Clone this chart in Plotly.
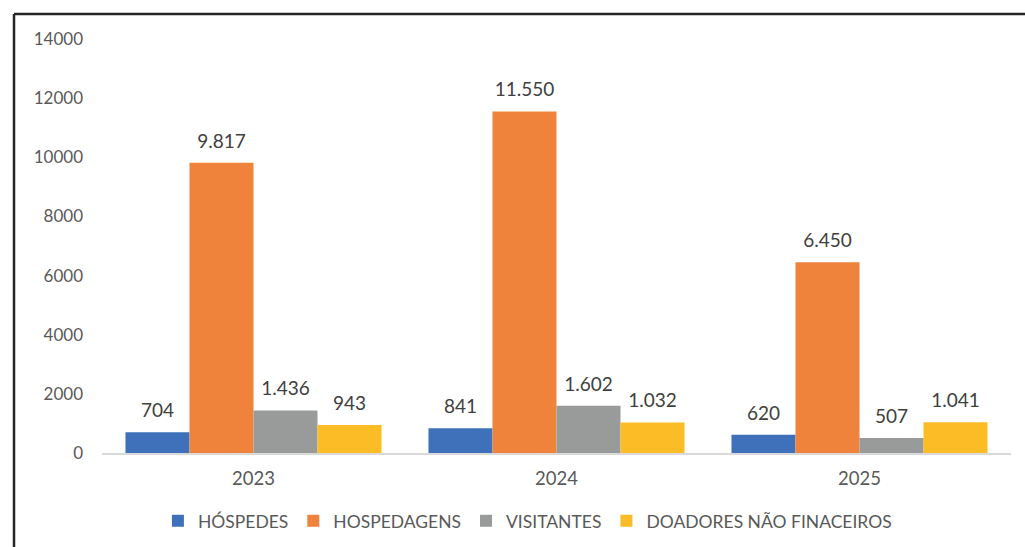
import plotly.graph_objects as go

years = ["2023", "2024", "2025"]
hospedes = [704, 841, 620]
hospedagens = [9817, 11550, 6450]
visitantes = [1436, 1602, 507]
doadores = [943, 1032, 1041]
series_names = ["HÓSPEDES", "HOSPEDAGENS", "VISITANTES", "DOADORES NÃO FINACEIROS"]
colors = ["#3F71BA", "#F0833C", "#999B9B", "#FBBC26"]
y_ticks = [0, 2000, 4000, 6000, 8000, 10000, 12000, 14000]

FONT = "Lato"
fig = go.Figure()
all_series = [hospedes, hospedagens, visitantes, doadores]
for i, (name, vals, col) in enumerate(zip(series_names, all_series, colors)):
    fig.add_trace(go.Bar(
        x=years, y=vals, name=name, marker_color=col, marker_line_width=0,
        offsetgroup=str(i), hoverinfo="skip",
    ))
for i, vals in enumerate(all_series):
    fig.add_trace(go.Scatter(
        x=years, y=vals, mode="markers+text", offsetgroup=str(i),
        marker=dict(size=15, opacity=0), showlegend=False,
        texttemplate="%{y:,.0f}", textposition="top center",
        textfont=dict(size=19, color="#404040", family=FONT),
        cliponaxis=False, hoverinfo="skip",
    ))

fig.update_layout(
    width=1025, height=547,
    separators=",.",
    barmode="group", bargap=0.155, bargroupgap=0,
    scattermode="group", scattergap=0.155,
    plot_bgcolor="white", paper_bgcolor="white",
    margin=dict(l=102, r=14, t=39, b=94, autoexpand=False),
    font=dict(family=FONT, color="#595959", size=16),
    xaxis=dict(showgrid=False, showline=True, linecolor="#D9D9D9", linewidth=1.5,
               automargin=False,
               ticks="", ticklabelstandoff=8, tickfont=dict(size=18.5, color="#595959")),
    yaxis=dict(range=[0, 14000], tickvals=y_ticks, showgrid=False, zeroline=False,
               showline=False, ticks="", ticklabelstandoff=18, automargin=False,
               tickfont=dict(size=17, color="#595959"), tickformat="d"),
    legend=dict(orientation="h", x=0.468, xanchor="center", y=-0.164, yanchor="middle",
                font=dict(size=17.5, color="#595959"), itemwidth=30, traceorder="normal"),
    showlegend=True,
)

# outer frame
fig.add_shape(type="line", xref="paper", yref="paper", x0=-0.0968, x1=1.05, y0=1.0604, y1=1.0604,
              line=dict(color="#262626", width=2.5))
fig.add_shape(type="line", xref="paper", yref="paper", x0=-0.0968, x1=-0.0968, y0=1.0604, y1=-0.3,
              line=dict(color="#262626", width=2.5))

fig.write_html("out.html", config={"displayModeBar": False},
               post_script="document.body.style.margin='0';")
